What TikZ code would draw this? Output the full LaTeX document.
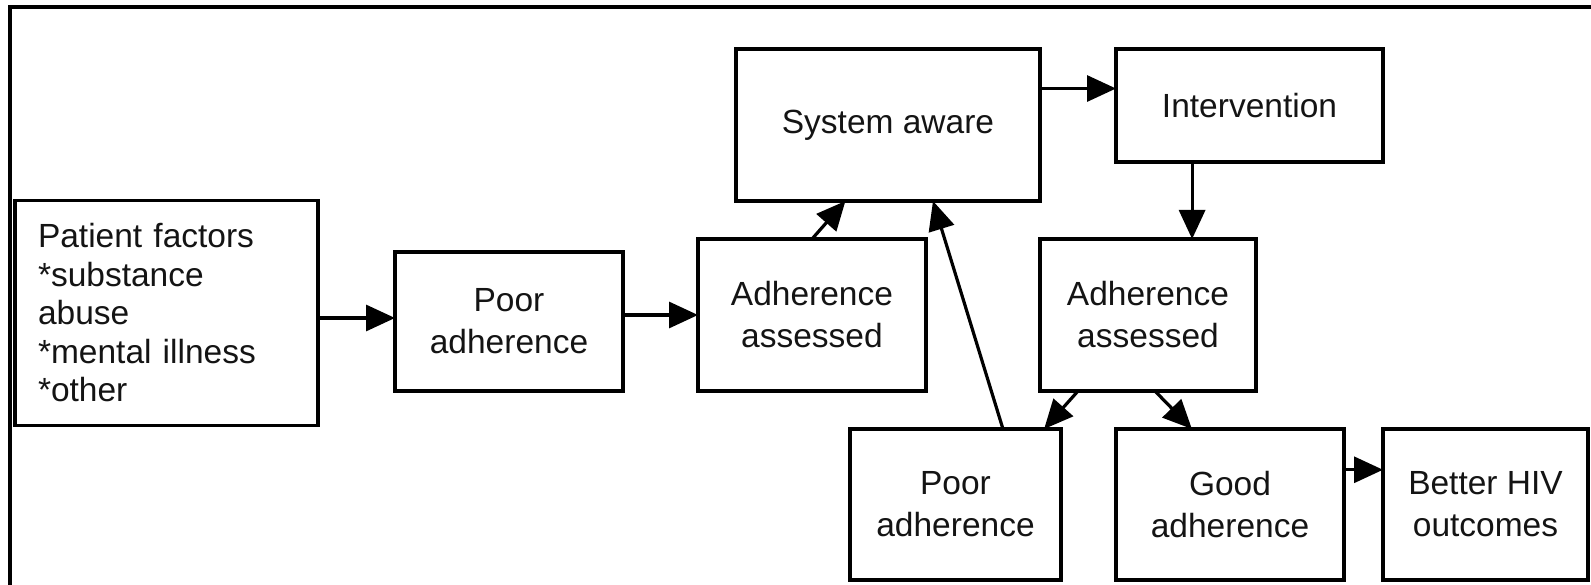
\documentclass[tikz,border=0pt]{standalone}
\usepackage{fontspec}
\setmainfont{Liberation Sans}
\usetikzlibrary{arrows.meta,calc}
\begin{document}
\begin{tikzpicture}[x=1pt,y=-1pt,
  box/.style={draw=black,line width=3.2pt,inner sep=0pt,outer sep=0pt,align=center,
    font=\fontsize{33.5}{42}\selectfont,text=black!92},
  arr/.style={line width=3.2pt,-{Triangle[length=29pt,width=26pt]}},
  frame/.style={line width=4pt}]
\useasboundingbox (0,0) rectangle (1591,585);
\coordinate (fbl) at (10,585);
\coordinate (ftl) at (10,7.5);
\coordinate (ftr) at (1591,7.5);
\draw[frame] (fbl) -- (ftl) -- (ftr);
\node[box,minimum height=225pt,text width=257pt,inner xsep=23pt,align=left,
  font=\fontsize{33.5}{38.5}\selectfont] (pf) at (166.5,313)
  {Patient factors\\{*}substance\\abuse\\{*}mental illness\\{*}other};
\node[box,minimum width=228pt,minimum height=139pt] (p1) at (509,321.5) {Poor\\adherence};
\node[box,minimum width=228pt,minimum height=152pt] (a1) at (812,315) {Adherence\\assessed};
\node[box,minimum width=304pt,minimum height=152pt] (sa) at (888,125) {System aware};
\node[box,minimum width=267pt,minimum height=113pt] (iv) at (1249.5,105.5) {Intervention};
\node[box,minimum width=216pt,minimum height=152pt] (a2) at (1148,315) {Adherence\\assessed};
\node[box,minimum width=211pt,minimum height=151pt] (p2) at (955.5,504.5) {Poor\\adherence};
\node[box,minimum width=228pt,minimum height=151pt] (g) at (1230,504.5) {Good\\adherence};
\node[box,minimum width=205pt,minimum height=151pt] (b) at (1485.5,504.5) {Better HIV\\outcomes};
% connectors
\draw[arr] ([yshift=-5pt]pf.east) -- ([yshift=-5pt]pf.east -| p1.west);
\draw[arr] (p1.east |- a1.west) -- (a1.west);
\draw[arr] (a1.north) -- ($(sa.south west)!0.36!(sa.south east)$);
\draw[arr] ($(p2.north west)!0.725!(p2.north east)$) -- ($(sa.south west)!0.648!(sa.south east)$);
\coordinate (s1) at ($(sa.north east)!0.26!(sa.south east)$);
\draw[arr] (s1) -- (s1 -| iv.west);
\coordinate (i1) at ($(iv.south west)!0.285!(iv.south east)$);
\draw[arr] (i1) -- (i1 |- a2.north);
\draw[arr] ($(a2.south west)!0.176!(a2.south east)$) -- ($(p2.north west)!0.92!(p2.north east)$);
\draw[arr] ($(a2.south west)!0.532!(a2.south east)$) -- ($(g.north west)!0.333!(g.north east)$);
\coordinate (g1) at ($(g.north east)!0.27!(g.south east)$);
\draw[arr] (g1) -- (g1 -| b.west);
\end{tikzpicture}
\end{document}
